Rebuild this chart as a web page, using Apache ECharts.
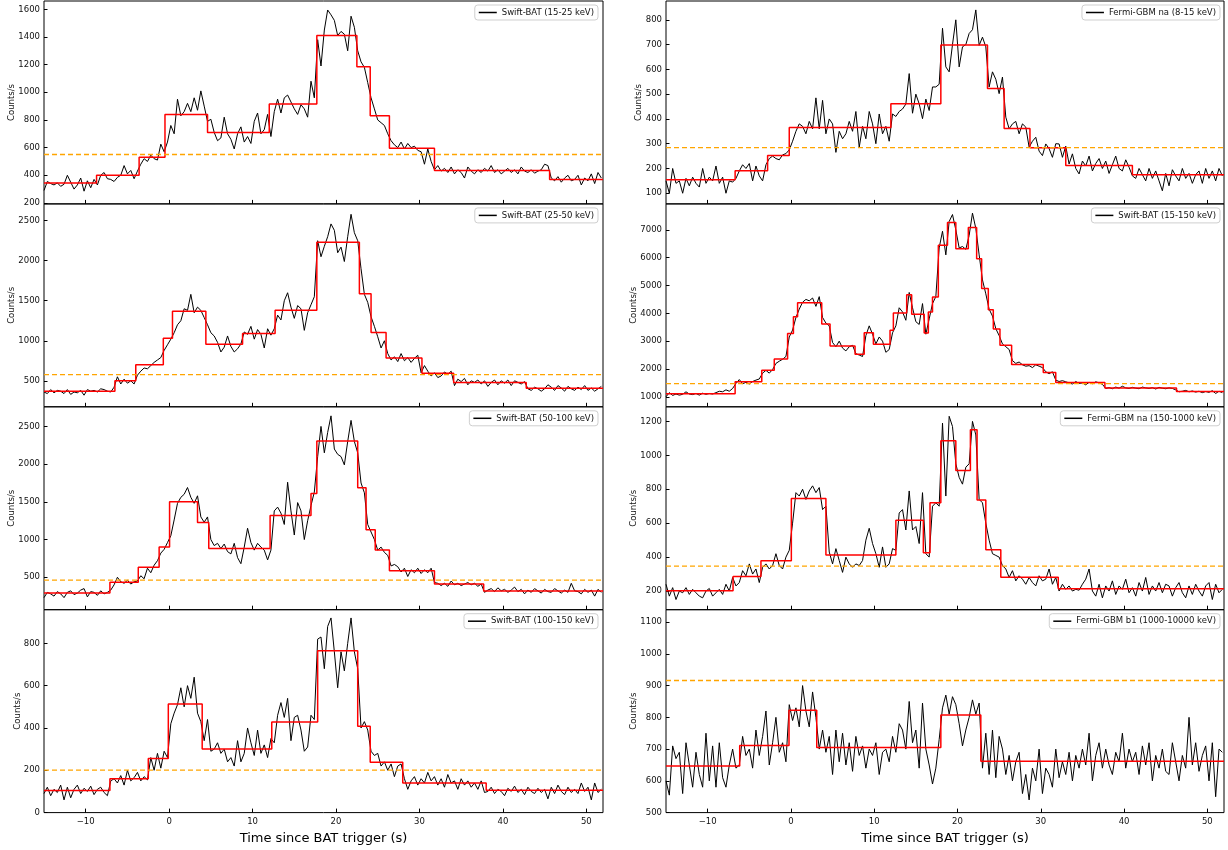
<!DOCTYPE html>
<html>
<head>
<meta charset="utf-8">
<script src="https://cdn.jsdelivr.net/npm/echarts@6/dist/echarts.min.js"></script>
<style>
  html, body { margin: 0; padding: 0; background: #fff; }
  #chart { width: 1228px; height: 850px; }
</style>
</head>
<body>
<div id="chart"></div>
<script>
// Binned light curves: bins start at -15 s, 0.4 s wide (168 bins)
const binStart = -15;
const binWidth = 0.4;

// ---- Swift-BAT 15-25 keV ----
const bat15_25 = [
  290, 355, 340, 330, 345, 320, 335, 400, 350, 300,
  330, 380, 285, 360, 310, 370, 330, 400, 420, 375,
  370, 355, 385, 400, 470, 410, 435, 375, 430, 480,
  520, 500, 545, 520, 510, 625, 570, 640, 760, 700,
  950, 830, 860, 920, 860, 960, 870, 1010, 900, 790,
  805, 710, 650, 670, 820, 700, 660, 590, 700, 750,
  640, 680, 630, 790, 850, 700, 730, 840, 680, 860,
  950, 850, 960, 980, 930, 880, 840, 910, 880, 820,
  1080, 960, 1380, 1190, 1450, 1595, 1560, 1520, 1410, 1440,
  1420, 1300, 1550, 1470, 1300, 1220, 1180, 1070, 960, 880,
  800, 780, 760, 700, 650, 620, 600, 640, 590, 630,
  600, 610, 580, 570, 480, 590, 500, 440, 470, 430,
  450, 420, 460, 410, 440, 420, 380, 460, 430, 410,
  440, 420, 450, 430, 470, 420, 440, 410, 430, 450,
  420, 440, 410, 460, 430, 420, 440, 415, 430, 440,
  480, 470, 380, 360, 390, 350, 380, 400, 360, 370,
  400, 330, 380, 360, 410, 340, 420, 380
];
const bat15_25Edges = [-15, -8.7, -3.6, -0.5, 4.6, 12.0, 17.7, 22.5, 24.1, 26.4, 31.8, 45.6, 52];
const bat15_25Levels = [345, 400, 530, 840, 710, 915, 1410, 1185, 830, 595, 435, 370];

// ---- Swift-BAT 25-50 keV ----
const bat25_50 = [
  360, 340, 390, 350, 380, 370, 340, 390, 330, 360,
  350, 380, 320, 390, 370, 380, 360, 400, 390, 370,
  360, 420, 550, 460, 520, 470, 500, 460, 570, 620,
  660, 650, 690, 730, 760, 790, 880, 950, 1020, 1100,
  1200, 1250, 1400, 1380, 1580, 1350, 1420, 1380, 1290, 1200,
  1100, 1060, 980, 860, 920, 1060, 930, 860, 900, 960,
  1110, 1080, 1180, 1020, 1140, 1080, 910, 1150, 1070, 1150,
  1320, 1260, 1500, 1600, 1420, 1280, 1440, 1400, 1130, 1350,
  1450, 1550, 2250, 2050, 2180, 2300, 2460, 2380, 2100, 2170,
  1990, 2300, 2580, 2350, 2250, 1900, 1580, 1480, 1300, 1180,
  1050, 910, 1000, 840, 760, 800, 740, 840, 750, 790,
  730, 780, 820, 600, 690, 620, 560, 600, 540, 560,
  610, 580, 620, 440, 520, 490, 530, 450, 500, 480,
  510, 460, 500, 430, 480, 510, 450, 500, 470, 510,
  440, 500, 480, 460, 490, 400, 380, 420, 400, 370,
  400, 450, 420, 380, 440, 410, 370, 430, 400, 380,
  420, 390, 440, 380, 410, 370, 400, 430
];
const bat25_50Edges = [-15, -6.5, -4.0, -0.7, 0.4, 4.4, 8.8, 12.7, 17.7, 22.8, 24.2, 26.0, 30.3, 34.1, 42.8, 52];
const bat25_50Levels = [370, 500, 700, 1030, 1368, 955, 1090, 1380, 2230, 1587, 1103, 786, 594, 480, 408];

// ---- Swift-BAT 50-100 keV ----
const bat50_100 = [
  230, 300, 280, 250, 310, 280, 230, 300, 320, 270,
  290, 330, 350, 240, 310, 300, 260, 320, 280, 300,
  330, 400, 500, 440, 420, 460, 410, 440, 450, 520,
  480, 620, 560, 660, 720, 820, 870, 960, 1050, 1260,
  1480, 1560, 1600, 1690, 1560, 1480, 1580, 1300, 1230, 1300,
  1000, 920, 950, 880, 940, 840, 810, 950, 760, 680,
  900, 1150, 960, 860, 950, 900, 860, 730, 860, 1380,
  1430, 1350, 1200, 1760, 1380, 1060, 1490, 1380, 1000, 1250,
  1450, 1630, 2100, 2500, 2150, 2420, 2640, 2200, 2130, 2100,
  1990, 2300, 2580, 2300, 2150, 1750, 1620, 1200, 1100, 1000,
  860, 900, 830, 790, 650, 670, 640, 570, 620, 510,
  600, 560, 620, 550, 600, 560, 620, 430, 420, 390,
  420, 380, 450, 400, 420, 390, 410, 430, 400, 420,
  380, 410, 300, 330, 350, 310, 360, 320, 340, 300,
  330, 370, 310, 340, 280, 330, 300, 350, 320, 290,
  340, 310, 300, 350, 320, 290, 330, 300, 420, 320,
  310, 280, 340, 300, 330, 250, 340, 300
];
const bat50_100Edges = [-15, -7.1, -3.7, -1.2, 0.05, 3.4, 4.75, 12.1, 17.0, 17.7, 22.6, 23.6, 24.7, 26.4, 31.8, 37.7, 52];
const bat50_100Levels = [290, 435, 634, 900, 1500, 1227, 882, 1318, 1610, 2305, 1686, 1129, 862, 585, 412, 318];

// ---- Swift-BAT 100-150 keV ----
const bat100_150 = [
  90, 120, 80, 110, 95, 130, 60, 120, 70, 110,
  130, 90, 115, 100, 125, 85, 110, 120, 95, 80,
  150, 160, 140, 175, 130, 200, 150, 165, 190, 150,
  170, 155, 260, 200, 280, 210, 290, 260, 420, 470,
  510, 590, 500, 600, 540, 640, 470, 430, 340, 440,
  290, 300, 330, 280, 300, 240, 260, 220, 340, 240,
  280, 400, 330, 270, 390, 280, 320, 260, 350, 330,
  460, 520, 450, 540, 340, 450, 460, 390, 290, 310,
  460, 440, 820, 830, 680, 880, 920, 760, 590, 760,
  670, 800, 920, 760, 680, 400, 430, 390, 290, 270,
  280, 220, 240, 200, 230, 170, 220, 230, 160, 110,
  150, 170, 130, 160, 140, 190, 150, 170, 130, 160,
  120, 180, 140, 150, 110, 160, 130, 150, 120, 140,
  110, 150, 95, 100, 120, 90, 110, 100, 80, 115,
  100, 125, 95, 110, 85, 120, 100, 90, 115, 95,
  110, 65, 120, 90, 130, 100, 85, 120, 95, 110,
  90, 140, 100, 120, 60, 140, 95, 110
];
const bat100_150Edges = [-15, -7.1, -2.5, -0.1, 3.96, 12.3, 17.8, 22.6, 24.1, 28.0, 38.0, 52];
const bat100_150Levels = [104, 160, 256, 513, 301, 428, 765, 408, 238, 140, 106];

// ---- Fermi-GBM na 8-15 keV ----
const gbm8_15 = [
  150, 100, 200, 140, 150, 100, 160, 130, 165, 140,
  125, 200, 140, 165, 150, 210, 140, 165, 100, 150,
  145, 160, 190, 215, 200, 220, 150, 210, 170, 150,
  215, 240, 250, 240, 235, 255, 260, 275, 310, 350,
  380, 370, 340, 390, 360, 485, 360, 475, 340, 400,
  380, 265, 350, 320, 340, 390, 350, 430, 285, 370,
  320, 430, 380, 300, 420, 340, 370, 310, 420, 410,
  430, 440, 460, 583, 423, 500, 461, 401, 480, 434,
  529, 529, 540, 766, 610, 590, 700, 800, 610, 691,
  700, 745, 760, 840, 697, 730, 691, 529, 590, 560,
  502, 569, 407, 360, 380, 390, 340, 380, 367, 286,
  310, 326, 270, 252, 299, 280, 245, 300, 299, 245,
  290, 218, 259, 200, 178, 230, 210, 250, 190, 220,
  240, 200, 230, 180, 215, 250, 200, 190, 235, 205,
  170, 160, 200, 175, 150, 200, 160, 190, 150, 110,
  180, 130, 195, 170, 150, 200, 160, 180, 140, 175,
  190, 140, 200, 160, 190, 150, 200, 170
];
const gbm8_15Edges = [-15, -6.7, -2.8, -0.2, 12.0, 18.0, 23.6, 25.6, 28.7, 33.0, 41.0, 52];
const gbm8_15Levels = [154, 191, 252, 365, 461, 698, 523, 361, 284, 212, 175];

// ---- Swift-BAT 15-150 keV ----
const bat15_150 = [
  1000, 1150, 1050, 1100, 1060, 1090, 1180, 1100, 1080, 1120,
  1060, 1130, 1090, 1120, 1100, 1150, 1200, 1180, 1250, 1200,
  1300, 1480, 1620, 1470, 1520, 1460, 1550, 1600, 1640, 1850,
  1950, 1850, 1980, 2200, 2280, 2350, 2450, 3150, 3400, 3850,
  4150, 4400, 4500, 4450, 4550, 4250, 4600, 3850, 3650, 3550,
  2950, 2800, 3000, 2750, 2650, 2800, 2850, 2550, 2500, 2450,
  3200, 3550, 3250, 2900, 3150, 3000, 2600, 2700, 3300, 3550,
  4200, 4050, 3750, 4750, 4200, 3700, 3600, 4350, 3250, 3800,
  4350, 4600, 6350, 6950, 6100, 7300, 7550, 7000, 6350, 6400,
  6300, 6800, 7600, 7050, 6100, 5200, 4700, 4150, 3900, 3450,
  3200, 2900, 2800, 2700, 2300, 2200, 2250, 2150, 2100, 2120,
  2050, 2150, 2100, 2050, 1900, 1830, 1900, 1600, 1550, 1580,
  1540, 1500, 1460, 1550, 1480, 1500, 1430, 1520, 1470, 1540,
  1500, 1450, 1300, 1330, 1290, 1350, 1310, 1380, 1320, 1300,
  1340, 1310, 1290, 1350, 1320, 1300, 1330, 1280, 1340, 1310,
  1290, 1320, 1300, 1250, 1180, 1200, 1230, 1180, 1210, 1170,
  1200, 1150, 1190, 1160, 1220, 1120, 1200, 1150
];
const bat15_150Edges = [-15, -6.7, -3.5, -2.0, -0.4, 0.3, 0.8, 3.7, 4.7, 7.7, 8.8, 9.9, 11.9, 12.3, 13.9, 14.5, 16.0, 16.5, 17.0, 17.7, 18.8, 19.8, 21.3, 22.3, 22.9, 23.7, 24.3, 25.1, 26.5, 30.3, 31.8, 37.7, 46.3, 52];
const bat15_150Levels = [1110, 1538, 1956, 2362, 3271, 3880, 4382, 3617, 2828, 2530, 3306, 2888, 3390, 4011, 4669, 3964, 3294, 4047, 4585, 6449, 7262, 6318, 7083, 5959, 4896, 4131, 3438, 2852, 2159, 1872, 1514, 1320, 1188];

// ---- Fermi-GBM na 150-1000 keV ----
const gbm150_1000 = [
  240, 170, 220, 150, 200, 190, 220, 180, 210, 190,
  170, 160, 200, 215, 170, 190, 210, 180, 240, 200,
  280, 230, 250, 320, 290, 360, 300, 330, 250, 340,
  360, 330, 350, 420, 350, 330, 400, 440, 600, 780,
  760, 800, 740, 790, 820, 780, 810, 680, 700, 430,
  360, 450, 380, 310, 400, 360, 340, 360, 350, 380,
  500, 570, 480, 420, 340, 460, 340, 360, 450, 440,
  660, 680, 560, 790, 560, 580, 480, 780, 420, 400,
  700, 720, 700, 1190, 760, 1230, 1170, 950, 870, 830,
  930, 950, 1200, 1120, 740, 720, 600, 500, 420, 410,
  400, 350, 330, 280, 320, 260, 290, 270, 240, 280,
  250, 230, 290, 260, 270, 330, 240, 280, 200, 240,
  210, 230, 200, 210, 205, 240, 270, 330, 200, 170,
  240, 160, 230, 200, 260, 180, 230, 210, 270, 190,
  220, 170, 250, 200, 280, 180, 230, 200, 250, 190,
  240, 230, 170, 220, 250, 190, 160, 230, 180, 240,
  200, 170, 230, 250, 150, 240, 190, 210
];
const gbm150_1000Edges = [-15, -6.95, -3.6, 0.05, 4.2, 12.6, 15.9, 16.7, 18.0, 19.8, 21.55, 22.35, 23.4, 25.2, 32.1, 52];
const gbm150_1000Levels = [202, 286, 379, 746, 412, 617, 426, 721, 1086, 911, 1151, 736, 444, 281, 214];

// ---- Fermi-GBM b1 1000-10000 keV ----
const gbmB1 = [
  600, 555, 710, 670, 690, 560, 720, 650, 580, 690,
  620, 580, 750, 600, 710, 580, 720, 610, 580, 650,
  700, 640, 650, 740, 680, 700, 640, 760, 680, 740,
  820, 650, 720, 800, 690, 720, 660, 840, 790, 830,
  770, 900, 820, 770, 880, 800, 700, 760, 690, 740,
  620, 760, 660, 750, 650, 720, 630, 740, 680, 710,
  640, 700, 680, 720, 620, 690, 700, 660, 740, 690,
  780, 760, 700, 850, 720, 760, 640, 845, 700, 650,
  590, 640, 730, 830, 870, 810, 865, 840, 780, 710,
  760, 800, 855, 810, 845, 640, 750, 620, 760, 610,
  740, 700, 620, 680, 600, 660, 690, 560, 620, 540,
  640, 600, 700, 560, 640, 620, 580, 700, 610, 660,
  620, 690, 600, 680, 640, 700, 650, 750, 600, 680,
  720, 640, 700, 650, 620, 690, 660, 750, 640, 700,
  660, 690, 620, 710, 650, 720, 600, 680, 640, 700,
  630, 620, 720, 660, 600, 680, 640, 800, 650, 720,
  630, 680, 710, 600, 720, 550, 700, 690
];
const gbmB1Edges = [-15, -6.15, -0.23, 3.1, 18.0, 22.8, 52];
const gbmB1Levels = [647, 711, 822, 705, 807, 662];

// Detection thresholds (dashed lines)
const thresholds = [550, 576, 462, 201, 284, 1477, 347, 916];

// Tick values
const timeTicks = [-10, 0, 10, 20, 30, 40, 50];
const ticksBat15_25 = [200, 400, 600, 800, 1000, 1200, 1400, 1600];
const ticksBat25_50 = [500, 1000, 1500, 2000, 2500];
const ticksBat50_100 = [500, 1000, 1500, 2000, 2500];
const ticksBat100_150 = [0, 200, 400, 600, 800];
const ticksGbm8_15 = [100, 200, 300, 400, 500, 600, 700, 800];
const ticksBat15_150 = [1000, 2000, 3000, 4000, 5000, 6000, 7000];
const ticksGbm150_1000 = [200, 400, 600, 800, 1000, 1200];
const ticksGbmB1 = [500, 600, 700, 800, 900, 1000, 1100];

const panels = [
  { name: 'Swift-BAT (15-25 keV)',          col: 0, row: 0, values: bat15_25,    edges: bat15_25Edges,    levels: bat15_25Levels,    ticks: ticksBat15_25,    range: [193, 1660], nameGap: 27.5 },
  { name: 'Swift-BAT (25-50 keV)',          col: 0, row: 1, values: bat25_50,    edges: bat25_50Edges,    levels: bat25_50Levels,    ticks: ticksBat25_50,    range: [175, 2710], nameGap: 27.5 },
  { name: 'Swift-BAT (50-100 keV)',         col: 0, row: 2, values: bat50_100,   edges: bat50_100Edges,   levels: bat50_100Levels,   ticks: ticksBat50_100,   range: [70, 2760],  nameGap: 27.5 },
  { name: 'Swift-BAT (100-150 keV)',        col: 0, row: 3, values: bat100_150,  edges: bat100_150Edges,  levels: bat100_150Levels,  ticks: ticksBat100_150,  range: [0, 959],    nameGap: 22 },
  { name: 'Fermi-GBM na (8-15 keV)',        col: 1, row: 0, values: gbm8_15,     edges: gbm8_15Edges,     levels: gbm8_15Levels,     ticks: ticksGbm8_15,     range: [57, 876],   nameGap: 23 },
  { name: 'Swift-BAT (15-150 keV)',         col: 1, row: 1, values: bat15_150,   edges: bat15_150Edges,   levels: bat15_150Levels,   ticks: ticksBat15_150,   range: [641, 7932], nameGap: 28 },
  { name: 'Fermi-GBM na (150-1000 keV)',    col: 1, row: 2, values: gbm150_1000, edges: gbm150_1000Edges, levels: gbm150_1000Levels, ticks: ticksGbm150_1000, range: [90, 1286],  nameGap: 28 },
  { name: 'Fermi-GBM b1 (1000-10000 keV)',  col: 1, row: 3, values: gbmB1,       edges: gbmB1Edges,       levels: gbmB1Levels,       ticks: ticksGbmB1,       range: [500, 1139], nameGap: 28 }
];

// Layout
const FONT = 'DejaVu Sans';
const COLS = [{ left: 44, width: 559, legendRight: 630 }, { left: 666, width: 558, legendRight: 8 }];
const TOP0 = 1;
const PANEL_H = 202.9;
const T_MIN = -15, T_MAX = 52;

const minus = v => (v < 0 ? '\u2212' + Math.abs(v) : String(v));

const option = {
  animation: false,
  backgroundColor: '#fff',
  grid: [], xAxis: [], yAxis: [], legend: [], series: []
};

panels.forEach((p, k) => {
  const col = COLS[p.col];
  const top = TOP0 + p.row * PANEL_H;
  const isBottom = p.row === 3;

  option.grid.push({
    left: col.left, top: top, width: col.width, height: PANEL_H,
    show: true, borderColor: '#000', borderWidth: 1, backgroundColor: 'transparent',
    containLabel: false, outerBoundsMode: 'none'
  });

  option.xAxis.push({
    type: 'value', gridIndex: k, min: T_MIN, max: T_MAX, position: 'bottom',
    axisLine: { show: false, onZero: false }, splitLine: { show: false },
    axisTick: { show: true, inside: true, length: 4, customValues: timeTicks, lineStyle: { color: '#000', width: 1 } },
    axisLabel: { show: isBottom, customValues: timeTicks, margin: 5, fontSize: 8.5, color: '#111', fontFamily: FONT, formatter: minus },
    name: isBottom ? 'Time since BAT trigger (s)' : '',
    nameLocation: 'middle', nameGap: 20, nameMoveOverlap: false,
    nameTextStyle: { fontSize: 13, fontFamily: FONT, color: '#000' }
  });

  option.yAxis.push({
    type: 'value', gridIndex: k, min: p.range[0], max: p.range[1], position: 'left',
    axisLine: { show: false, onZero: false }, splitLine: { show: false },
    axisTick: { show: true, inside: true, length: 3.5, customValues: p.ticks, lineStyle: { color: '#000', width: 1 } },
    axisLabel: { show: true, customValues: p.ticks, margin: 4, fontSize: 8.5, color: '#111', fontFamily: FONT, formatter: minus },
    name: 'Counts/s', nameLocation: 'middle', nameRotate: 90, nameGap: p.nameGap, nameMoveOverlap: false,
    nameTextStyle: { fontSize: 8.5, fontFamily: FONT, color: '#111' }
  });

  option.legend.push({
    data: [p.name],
    right: col.legendRight, top: top + 4,
    orient: 'vertical',
    icon: 'rect', itemWidth: 18, itemHeight: 1.5,
    padding: [3, 4, 3, 4],
    backgroundColor: '#fff', borderColor: '#cfcfcf', borderWidth: 1, borderRadius: 3,
    textStyle: { fontSize: 8.5, fontFamily: FONT, color: '#111' },
    selectedMode: false
  });

  // light curve
  option.series.push({
    name: p.name, type: 'line', xAxisIndex: k, yAxisIndex: k,
    data: p.values.map((v, i) => [binStart + binWidth * i, v]),
    showSymbol: false, symbol: 'none', silent: true,
    lineStyle: { color: '#000', width: 1 },
    itemStyle: { color: '#000' }, z: 2
  });

  // Bayesian-block step curve
  const steps = p.levels.map((lv, i) => [p.edges[i], lv]);
  steps.push([p.edges[p.edges.length - 1], p.levels[p.levels.length - 1]]);
  option.series.push({
    name: p.name + ' blocks', type: 'line', xAxisIndex: k, yAxisIndex: k,
    data: steps, step: 'end', showSymbol: false, symbol: 'none', silent: true,
    lineStyle: { color: '#ff0000', width: 1.5 }, itemStyle: { color: '#ff0000' }, z: 3
  });

  // threshold
  option.series.push({
    name: p.name + ' threshold', type: 'line', xAxisIndex: k, yAxisIndex: k,
    data: [[T_MIN, thresholds[k]], [T_MAX, thresholds[k]]],
    showSymbol: false, symbol: 'none', silent: true,
    lineStyle: { color: '#ffa500', width: 1.3, type: [5, 3] }, itemStyle: { color: '#ffa500' }, z: 4
  });
});

const chart = echarts.init(document.getElementById('chart'), null, { renderer: 'canvas' });
chart.setOption(option);
</script>
</body>
</html>
